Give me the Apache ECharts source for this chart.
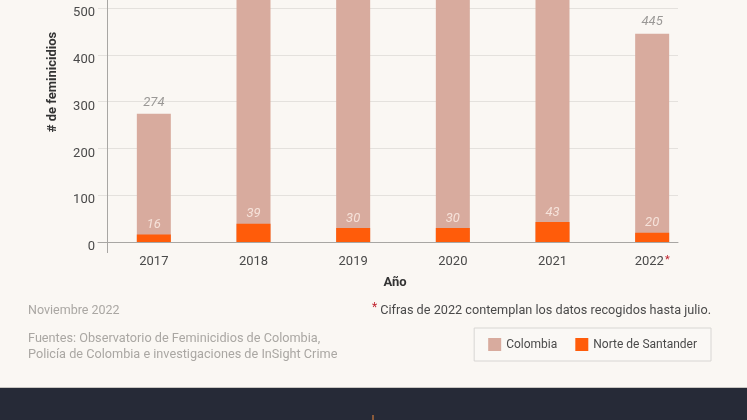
<!DOCTYPE html>
<html>
<head>
<meta charset="utf-8">
<script src="https://cdn.jsdelivr.net/npm/echarts@6/dist/echarts.min.js"></script>
<style>
html,body{margin:0;padding:0;background:#faf7f3;}
#chart{width:747px;height:420px;}
</style>
</head>
<body>
<div id="chart"></div>
<script>
var years = ['2017', '2018', '2019', '2020', '2021', '2022'];
var colombia = [274, 588, 571, 630, 622, 445];
var norte = [16, 39, 30, 30, 43, 20];
var yTicks = [0, 100, 200, 300, 400, 500];

var chart = echarts.init(document.getElementById('chart'));
var font = 'Roboto, "Noto Sans", sans-serif';
var option = {
  backgroundColor: '#faf7f3',
  textStyle: { fontFamily: font },
  animation: false,
  grid: [
    { left: 98, right: 69, top: 8, bottom: 178 },
    { left: 104, right: 45, top: 8, bottom: 178 }
  ],
  xAxis: [
    { type: 'value', gridIndex: 0, min: 0, max: 1, show: true,
      axisLine: { show: true, onZero: false, lineStyle: { color: '#a8a6a3', width: 1 } },
      axisTick: { show: false }, axisLabel: { show: false }, splitLine: { show: false } },
    { type: 'category', gridIndex: 1, data: years,
      axisLine: { show: false }, axisTick: { show: false },
      axisLabel: { color: '#4a4a4a', fontSize: 13, margin: 13, fontFamily: font,
        formatter: function (v) { return v === '2022' ? v + '{a|*}' : v; },
        rich: { a: { color: '#c0242f', fontSize: 11, verticalAlign: 'top', padding: [0, 0, 3, 1] } } } }
  ],
  yAxis: [
    { type: 'value', gridIndex: 0, min: 0, max: 500, interval: 100, offset: -9,
      axisLine: { show: true, lineStyle: { color: '#a8a6a3' } },
      axisTick: { show: false },
      axisLabel: { color: '#4a4a4a', fontSize: 13, margin: 12, verticalAlign: 'top', lineHeight: 10,
        formatter: function (v) { return yTicks.indexOf(v) >= 0 ? String(v) : ''; } },
      splitLine: { show: true, lineStyle: { color: '#e4e1dd', width: 1 } } },
    { type: 'value', gridIndex: 1, min: 0, max: 500, interval: 100, show: false }
  ],
  legend: {
    right: 36, top: 328, padding: [10, 14], itemWidth: 13, itemHeight: 13, itemGap: 18,
    borderColor: '#d8d6d3', borderWidth: 1, backgroundColor: '#faf8f5',
    icon: 'rect',
    textStyle: { color: '#4a4a4a', fontSize: 12, fontFamily: font },
    data: ['Colombia', 'Norte de Santander']
  },
  title: [
    { text: 'Año', left: 395, top: 276, textAlign: 'center', padding: 0,
      textStyle: { color: '#333', fontSize: 13, fontWeight: 'bold', fontFamily: font } },
    { text: 'Noviembre 2022', left: 28, top: 304, padding: 0,
      textStyle: { color: '#aaa7a3', fontSize: 12.5, fontWeight: 'normal', fontFamily: font } },
    { text: 'Fuentes: Observatorio de Feminicidios de Colombia,\nPolicía de Colombia e investigaciones de InSight Crime', left: 28, top: 331, padding: 0,
      textStyle: { color: '#aaa7a3', fontSize: 12.7, fontWeight: 'normal', lineHeight: 16, fontFamily: font } },
    { text: '{a|*} Cifras de 2022 contemplan los datos recogidos hasta julio.', right: 36, top: 302, padding: 0,
      textStyle: { color: '#4a4a4a', fontSize: 12.7, fontWeight: 'normal', fontFamily: font,
        rich: { a: { color: '#c0242f', fontSize: 12, verticalAlign: 'top', padding: [0, 0, 6, 0] } } } }
  ],
  graphic: [
    { type: 'text', x: 53, y: 82, rotation: Math.PI / 2,
      style: { text: '# de feminicidios', fill: '#333', font: 'bold 13px ' + font, align: 'center', verticalAlign: 'middle' } },
    { type: 'line', shape: { x1: 107.5, y1: 0, x2: 107.5, y2: 8 }, style: { stroke: '#a8a6a3', lineWidth: 1 } },
    { type: 'line', shape: { x1: 107.5, y1: 242, x2: 107.5, y2: 253 }, style: { stroke: '#a8a6a3', lineWidth: 1 } },
    { type: 'rect', left: 0, top: 388, shape: { width: 747, height: 32 }, style: { fill: '#262a37' }, z: 10 },
    { type: 'rect', left: 0, top: 387, shape: { width: 747, height: 1 }, style: { fill: '#c9c6c2' }, z: 10 },
    { type: 'rect', left: 372, top: 415, shape: { width: 2, height: 5 }, style: { fill: '#8a5a3a' }, z: 11 }
  ],
  series: [
    { name: 'Colombia', type: 'bar', xAxisIndex: 1, yAxisIndex: 1, data: colombia, clip: false,
      barWidth: 34, itemStyle: { color: '#d8ab9e' },
      label: { show: true, position: 'top', distance: 5, color: '#9a9896', fontSize: 13, fontStyle: 'italic', fontFamily: font } },
    { name: 'Norte de Santander', type: 'bar', xAxisIndex: 1, yAxisIndex: 1, data: norte, clip: false,
      barWidth: 34, barGap: '-100%', itemStyle: { color: '#ff5c0a' },
      label: { show: true, position: 'top', distance: 3, color: '#f6e2da', fontSize: 13, fontStyle: 'italic', fontFamily: font } }
  ]
};
chart.setOption(option);
</script>
</body>
</html>
